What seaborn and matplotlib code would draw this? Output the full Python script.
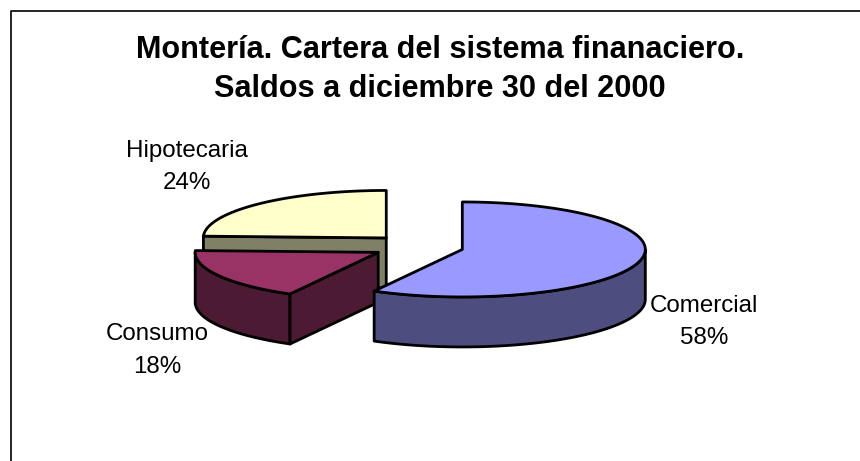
import numpy as np
import pandas as pd
import matplotlib.pyplot as plt
import seaborn as sns

# Data
categories = ['Comercial', 'Consumo', 'Hipotecaria']
shares = [58, 17.6, 24.4]
slice_colors = ['#9999FF', '#993366', '#FFFFCC']
title_lines = ['Montería. Cartera del sistema finanaciero.', 'Saldos a diciembre 30 del 2000']

df = pd.DataFrame({'categoria': categories, 'share': shares, 'color': slice_colors})

sns.set_theme(style='white')
plt.rcParams['font.family'] = ['Liberation Sans', 'DejaVu Sans']

# Pie geometry in pixels of the figure
cx, cy = 418, 246.5
rx, ry = 183, 47.5
depth = 50
explode = 0.25

fig = plt.figure(figsize=(8.6, 4.61), dpi=100)
ax = fig.add_axes([0, 0, 1, 1])
ax.set_xlim(0, 860)
ax.set_ylim(461, 0)
ax.axis('off')

# Frame of the chart area
ax.plot([10.5, 10.5, 860], [461, 11.5, 11.5], color='black', lw=1.2, solid_capstyle='butt')

# Slice angles, clockwise from the top
df['end'] = df['share'].cumsum() / df['share'].sum() * 2 * np.pi
df['start'] = df['end'] - df['share'] / df['share'].sum() * 2 * np.pi
df['mid'] = (df['start'] + df['end']) / 2
df['x0'] = cx + explode * rx * np.sin(df['mid'])
df['y0'] = cy - explode * ry * np.cos(df['mid'])


def arc(row, a, b):
    t = np.linspace(a, b, 120)
    return row.x0 + rx * np.sin(t), row.y0 - ry * np.cos(t)


def side(xs, ys, color, z):
    # extrude a curve downwards
    px = np.concatenate([xs, xs[::-1]])
    py = np.concatenate([ys, ys[::-1] + depth])
    ax.fill(px, py, facecolor=color, edgecolor='black', lw=2, joinstyle='round', zorder=z)


def dark(color, k=0.5):
    return tuple(c * k for c in sns.desaturate(color, 1.0))


# drawn from back to front
draw_order = {'Hipotecaria': 1, 'Consumo': 2, 'Comercial': 3}
for _, row in df.iterrows():
    z = draw_order[row.categoria] * 10
    low = dark(row.color)
    # visible part of the rim: the front half of the ellipse
    a = row.start
    b = min(row.end, 1.5 * np.pi)
    if row.categoria == 'Comercial':
        a, b = 0.5 * np.pi, row.end
    if row.categoria == 'Hipotecaria':
        # cut face seen from the front
        ex, ey = arc(row, row.start, row.start + 1e-6)
        side(np.array([ex[0], row.x0]), np.array([ey[0], row.y0]), low, z)
    else:
        xs, ys = arc(row, a, b)
        side(xs, ys, low, z)
    if row.categoria == 'Consumo':
        ex, ey = arc(row, row.start, row.start + 1e-6)
        side(np.array([row.x0, ex[0]]), np.array([row.y0, ey[0]]), low, z + 1)
    # top face
    xs, ys = arc(row, row.start, row.end)
    ax.fill(np.r_[row.x0, xs], np.r_[row.y0, ys], facecolor=row.color,
            edgecolor='black', lw=2, joinstyle='round', zorder=z + 2)

# Title
ax.text(440, 58, title_lines[0], ha='center', va='baseline', fontsize=22.1, fontweight='bold', color='black')
ax.text(440, 97, title_lines[1], ha='center', va='baseline', fontsize=22.1, fontweight='bold', color='black')

# Slice labels, baseline of the name and of the percentage
label_pos = {'Comercial': (704, 312, 344), 'Consumo': (157, 340, 373), 'Hipotecaria': (187, 157, 189)}
for _, row in df.iterrows():
    x, y1, y2 = label_pos[row.categoria]
    ax.text(x, y1, row.categoria, ha='center', va='baseline', fontsize=17.4, color='black', zorder=50)
    ax.text(x, y2, f'{row.share:.0f}%', ha='center', va='baseline', fontsize=17.4, color='black', zorder=50)

fig.savefig('out.png', dpi=100)
